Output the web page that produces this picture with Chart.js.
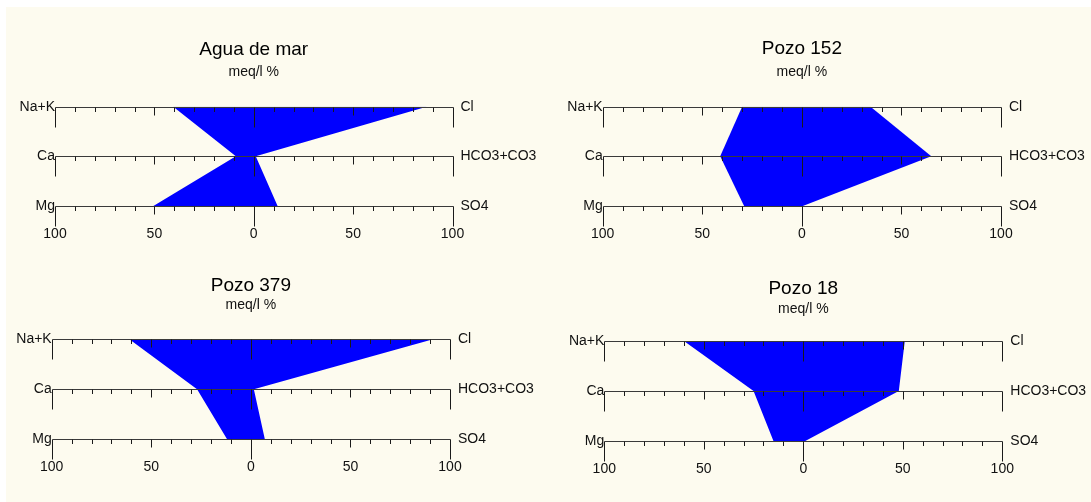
<!DOCTYPE html>
<html>
<head>
<meta charset="utf-8">
<script src="https://cdn.jsdelivr.net/npm/chart.js@4/dist/chart.umd.min.js"></script>
<style>
  body { margin: 0; background: #fff; }
  #page { position: absolute; left: 6px; top: 7px; width: 1085px; height: 495px; background: #fdfbef; }
  canvas { position: absolute; }
</style>
</head>
<body>
<div id="page"></div>
<script>
// DATA (meq/l %), one entry per diagram
var titles = ['Agua de mar', 'Pozo 152', 'Pozo 379', 'Pozo 18'];
var naK  = [40.5, 30, 61, 60];
var ca   = [9, 41, 27, 25];
var mg   = [50.5, 29, 12, 15];
var cl   = [87, 34.5, 91.5, 51];
var hco3 = [1, 65, 1.5, 48];
var so4  = [12, 0.5, 7, 1];

// axis labels, bottom row first (y = 1, 2, 3)
var cationLabels = ['Mg', 'Ca', 'Na+K'];
var anionLabels = ['SO4', 'HCO3+CO3', 'Cl'];
var xTicks = [-100, -50, 0, 50, 100];

// LAYOUT (page pixels)
var panels = [
  { left: 0,   top: 20,  width: 545, plotL: 55,    plotR: 452.5, plotTop: 106.7, plotBottom: 205.7, titleY: 49.7, subY: 72 },
  { left: 545, top: 20,  width: 546, plotL: 602.7, plotR: 1001,  plotTop: 106.7, plotBottom: 205.7, titleY: 48.5, subY: 72 },
  { left: 0,   top: 252, width: 545, plotL: 51.7,  plotR: 450,   plotTop: 339.3, plotBottom: 439.3, titleY: 285.5, subY: 305 },
  { left: 545, top: 252, width: 546, plotL: 604.3, plotR: 1002.3, plotTop: 341,  plotBottom: 441,   titleY: 289, subY: 306 }
];
var xAxisH = 44;

Chart.defaults.font.family = "'Liberation Sans', Arial, sans-serif";
Chart.defaults.color = '#111';

// horizontal axis lines and tick marks for each ion row, drawn over the polygon
var stiffAxes = {
  id: 'stiffAxes',
  afterDatasetsDraw: function (chart) {
    var ctx = chart.ctx, x = chart.scales.x, y = chart.scales.y;
    var x0 = Math.round(x.getPixelForValue(-100)) + 0.5;
    var x1 = Math.round(x.getPixelForValue(100)) + 0.5;
    ctx.save();
    ctx.lineWidth = 1;
    [1, 2, 3].forEach(function (lvl) {
      var py = Math.round(y.getPixelForValue(lvl)) + 0.5;
      ctx.strokeStyle = '#3a3a3a';
      ctx.beginPath();
      ctx.moveTo(x0, py);
      ctx.lineTo(x1, py);
      ctx.stroke();
      ctx.strokeStyle = '#1a1a1a';
      ctx.beginPath();
      for (var v = -100; v <= 100; v += 10) {
        var px = Math.round(x.getPixelForValue(v)) + 0.5;
        var len = (Math.abs(v) === 100 || v === 0) ? 20 : (Math.abs(v) === 50 ? 8 : 4.5);
        ctx.moveTo(px, py);
        ctx.lineTo(px, py + len);
      }
      ctx.stroke();
    });
    ctx.restore();
  }
};

panels.forEach(function (p, i) {
  var canvas = document.createElement('canvas');
  var h = Math.round(p.plotBottom - p.top + xAxisH);
  canvas.width = p.width;
  canvas.height = h;
  canvas.style.left = p.left + 'px';
  canvas.style.top = p.top + 'px';
  document.body.appendChild(canvas);

  var titleLH = 19 * 1.2, subLH = 14 * 1.2;
  var titlePadTop = p.titleY - p.top - titleLH / 2;
  var subPadTop = Math.max(0, (p.subY - subLH / 2) - (p.titleY + titleLH / 2));
  var subPadBottom = p.plotTop - (p.subY - subLH / 2 + subPadTop * 0) - subLH;
  // keep head height exact: subtitle top is where the title box ends + subPadTop
  subPadBottom = (p.plotTop - p.top) - (titlePadTop + titleLH + subPadTop + subLH);

  // polygon: cations to the left (negative), anions to the right
  var shape = [
    { x: -naK[i], y: 3 },
    { x: cl[i],   y: 3 },
    { x: hco3[i], y: 2 },
    { x: so4[i],  y: 1 },
    { x: -mg[i],  y: 1 },
    { x: -ca[i],  y: 2 }
  ];

  new Chart(canvas, {
    type: 'scatter',
    data: {
      datasets: [{
        data: shape,
        showLine: true,
        fill: 'shape',
        backgroundColor: '#0000ff',
        borderColor: 'rgba(0,0,0,0)',
        borderWidth: 1,
        pointRadius: 0,
        tension: 0
      }]
    },
    options: {
      responsive: false,
      animation: false,
      layout: { padding: 0 },
      plugins: {
        legend: { display: false },
        tooltip: { enabled: false },
        title: {
          display: true,
          text: titles[i],
          fullSize: false,
          color: '#000',
          font: { size: 19, weight: 'normal' },
          padding: { top: titlePadTop, bottom: 0 }
        },
        subtitle: {
          display: true,
          text: 'meq/l %',
          fullSize: false,
          color: '#111',
          font: { size: 14, weight: 'normal' },
          padding: { top: subPadTop, bottom: subPadBottom }
        }
      },
      scales: {
        x: {
          type: 'linear',
          position: 'bottom',
          min: -100,
          max: 100,
          afterBuildTicks: function (s) { s.ticks = xTicks.map(function (v) { return { value: v }; }); },
          afterFit: function (s) { s.height = xAxisH; },
          grid: { display: false, drawTicks: false },
          border: { display: false },
          ticks: {
            padding: 20,
            maxRotation: 0,
            autoSkip: false,
            font: { size: 14 },
            color: '#111',
            callback: function (v) { return Math.abs(v); }
          }
        },
        y: {
          type: 'linear',
          position: 'left',
          min: 1,
          max: 3,
          afterFit: function (s) { s.width = p.plotL - p.left; },
          grid: { display: false, drawTicks: false },
          border: { display: false },
          ticks: {
            stepSize: 1,
            padding: 0,
            font: { size: 14 },
            color: '#111',
            callback: function (v) { return cationLabels[v - 1]; }
          }
        },
        y2: {
          type: 'linear',
          position: 'right',
          min: 1,
          max: 3,
          afterFit: function (s) { s.width = p.left + p.width - p.plotR; },
          grid: { display: false, drawTicks: false },
          border: { display: false },
          ticks: {
            stepSize: 1,
            padding: 8,
            font: { size: 14 },
            color: '#111',
            callback: function (v) { return anionLabels[v - 1]; }
          }
        }
      }
    },
    plugins: [stiffAxes]
  });
});
</script>
</body>
</html>
